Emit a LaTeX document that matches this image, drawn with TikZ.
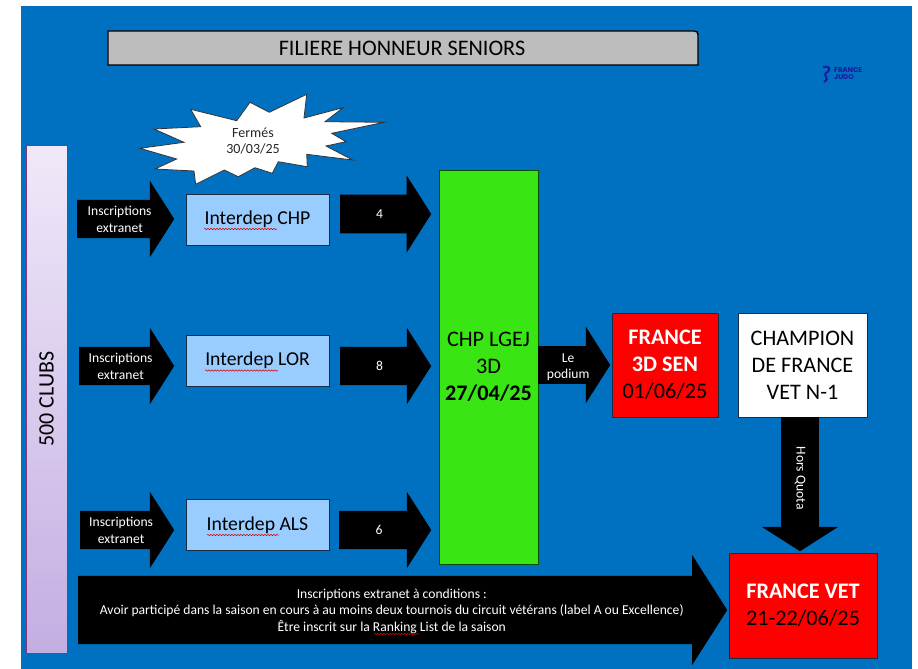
\documentclass[tikz,border=0pt]{standalone}
\usepackage{fontspec}
\setmainfont{Carlito}
\newfontfamily\logofont{Poppins}
\usetikzlibrary{shapes.arrows,decorations.pathmorphing}
\newcommand{\shaft}[3][3pt]{\vbox to #2{\vfil\vskip #1\hbox{\begin{tabular}{@{}c@{}}#3\end{tabular}}\vfil}}
\tikzset{
	blockarrow/.style n args={3}{single arrow, draw=none, fill=black, text=white, inner sep=0pt,
		minimum height=#1, minimum width=#2, single arrow head extend=#3,
		single arrow tip angle=115, anchor=tail, font=\fontsize{13.6}{16.7}\selectfont},
	interdep/.style={rectangle, draw=boxEdge, line width=0.9pt, fill=interdepFill, minimum width=143pt,
		minimum height=51pt, inner sep=0pt, font=\fontsize{19.7}{22}\selectfont},
	finalbox/.style={rectangle, draw=boxEdge, line width=0.7pt, inner sep=0pt, align=center,
		font=\fontsize{22.2}{27}\selectfont},
	logotext/.style={logoBlue, inner sep=0pt, anchor=west, font=\logofont\bfseries\fontsize{7}{7}\selectfont},
	redwave/.style={draw=red!85!black, line width=0.5pt, decorate,
		decoration={snake, amplitude=0.7pt, segment length=3pt}}
}
\begin{document}
\begin{tikzpicture}[x=1pt,y=-1pt]
% Colors
\definecolor{pageBlue}{RGB}{0,112,192}
\definecolor{titleGray}{RGB}{189,189,189}
\definecolor{boxEdge}{RGB}{24,44,70}
\definecolor{interdepFill}{RGB}{153,204,255}
\definecolor{lgejGreen}{RGB}{57,230,20}
\definecolor{clubsTop}{RGB}{240,233,249}
\definecolor{clubsBottom}{RGB}{195,174,226}
\definecolor{logoBlue}{RGB}{26,26,160}
\useasboundingbox (0,0) rectangle (918,669);
\fill[white] (0,0) rectangle (918,669);
\fill[pageBlue] (21,6) rectangle (912,669);
% Title bar
\draw[black, line width=1.4pt, fill=titleGray] (108,65) -- (108,31) -- (694,31)
	.. controls (697,31) and (698,32) .. (698,35) -- (698,65) -- cycle;
\node[font=\fontsize{22.2}{24}\selectfont] (title) at (402,48) {FILIERE HONNEUR SENIORS};
% Logo
\draw[logoBlue, line width=2pt] (823,67) .. controls (829,65) and (832,70) .. (826,73)
	.. controls (822,75) and (831,78) .. (824,82);
\node[logotext] (logoA) at (834,70) {FRANCE};
\node[logotext] (logoB) at (834,77) {JUDO};
% Closed stamp
\draw[black!80, line width=0.8pt, fill=white, line join=miter]
	   (306.7, 94.3) -- (304.0,118.0) -- (343.0,107.7) -- (325.0,121.7)
	-- (384.0,122.3) -- (331.7,133.3) -- (346.0,141.7) -- (326.0,146.0)
	-- (352.7,160.0) -- (306.7,154.3) -- (307.3,166.7) -- (278.3,161.7)
	-- (272.3,173.3) -- (255.0,167.7) -- (238.3,176.7) -- (224.3,170.0)
	-- (195.7,184.3) -- (194.0,171.0) -- (155.0,169.0) -- (176.7,159.0)
	-- (140.0,148.3) -- (184.0,142.3) -- (154.0,129.0) -- (200.7,126.7)
	-- (190.7,109.3) -- (236.7,120.7) -- (250.0,102.3) -- (269.3,112.3)
	-- cycle;
\node[align=center, text=black!85, font=\fontsize{14}{16}\selectfont] (closed) at (253,141) {Fermés\\30/03/25};
% Clubs column
\node[rectangle, draw=violet!55!gray, line width=0.8pt, minimum width=41pt, minimum height=508pt,
	inner sep=0pt, top color=clubsTop, bottom color=clubsBottom, font=\fontsize{22}{24}\selectfont]
	(clubs) at (46.5,399) {\rotatebox{90}{500 CLUBS}};
% Interdep boxes
\node[interdep] (chp) at (257.5,219.5) {Interdep CHP};
\node[interdep] (lor) at (257.5,360.5) {Interdep LOR};
\node[interdep] (als) at (257.5,525) {Interdep ALS};
\draw[redwave] (204,229) -- (277,229);
\draw[redwave] (205,370.5) -- (278,370.5);
\draw[redwave] (207,535) -- (279,535);
% Green box
\node[rectangle, draw=black!70!green, line width=0.8pt, fill=lgejGreen, minimum width=99pt, minimum height=394pt,
	inner sep=0pt, align=center, font=\fontsize{22.2}{27}\selectfont]
	(lgej) at (488.5,367) {CHP LGEJ\\3D\\\textbf{27/04/25}};
% Final boxes
\node[finalbox, fill=red, minimum width=106pt, minimum height=104pt] (sen) at (665,365)
	{\textcolor{white}{\textbf{FRANCE}}\\\textcolor{white}{\textbf{3D SEN}}\\01/06/25};
\node[finalbox, fill=white, minimum width=129pt, minimum height=104pt] (champ) at (802.5,365)
	{CHAMPION\\DE FRANCE\\VET N-1};
\node[finalbox, fill=red, minimum width=148pt, minimum height=105pt] (vet) at (803,605.5)
	{\textcolor{white}{\textbf{FRANCE VET}}\\21-22/06/25};
% Arrows
\node[blockarrow={97pt}{76pt}{19pt}] (inA) at (77,219) {\shaft{38pt}{Inscriptions\\extranet}};
\node[blockarrow={95pt}{76pt}{19pt}] (inB) at (79,366) {\shaft{38pt}{Inscriptions\\extranet}};
\node[blockarrow={94pt}{76pt}{19pt}] (inC) at (80,530) {\shaft{38pt}{Inscriptions\\extranet}};
\node[blockarrow={91pt}{77pt}{19pt}] (outA) at (340,214) {\shaft{38pt}{4}};
\node[blockarrow={91pt}{76pt}{19pt}] (outB) at (340,366) {\shaft{38pt}{8}};
\node[blockarrow={92pt}{76pt}{19pt}] (outC) at (339,530) {\shaft{38pt}{6}};
\node[blockarrow={72pt}{76pt}{19pt}] (podium) at (538,365) {\shaft[4pt]{37pt}{Le\\podium}};
\node[blockarrow={134pt}{76pt}{19pt}, rotate=-90] (quota) at (800,417) {\shaft[0pt]{37pt}{Hors Quota}};
\node[blockarrow={649pt}{110pt}{21pt}] (cond) at (78,610)
	{\shaft{68pt}{Inscriptions extranet à conditions :\\Avoir participé dans la saison en cours à au moins deux tournois du circuit vétérans (label A ou Excellence)\\Être inscrit sur la Ranking List de la saison}};
\draw[redwave] (374,634) -- (419,634);
\end{tikzpicture}
\end{document}
